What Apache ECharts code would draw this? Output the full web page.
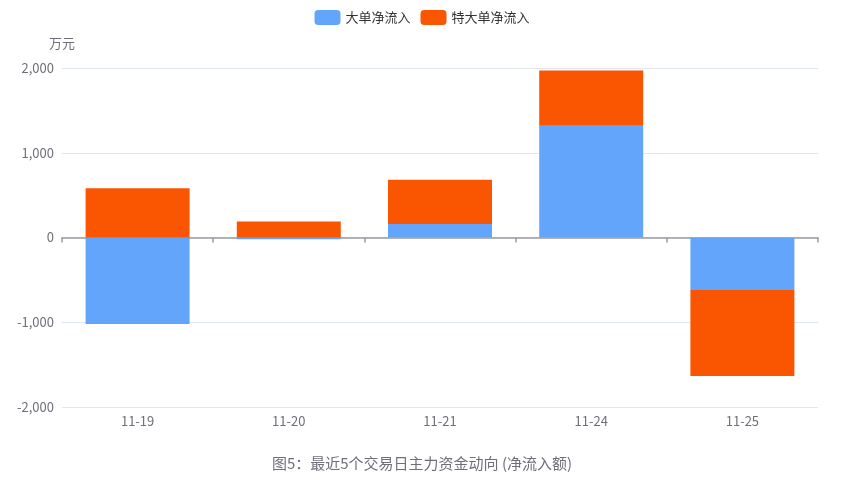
<!DOCTYPE html>
<html>
<head>
<meta charset="utf-8">
<script src="https://cdn.jsdelivr.net/npm/echarts@6/dist/echarts.min.js"></script>
<style>
  html, body { margin: 0; padding: 0; background: #fff; }
  #chart { width: 844px; height: 477px; }
</style>
</head>
<body>
<div id="chart"></div>
<script>
// Trading days
const dates = ['11-19', '11-20', '11-21', '11-24', '11-25'];
// Net inflow of large orders (万元)
const largeInflow = [-1020, -20, 160, 1320, -620];
// Net inflow of extra-large orders (万元)
const extraLargeInflow = [580, 190, 520, 650, -1015];
const seriesNames = ['大单净流入', '特大单净流入'];
const yTicks = { min: -2000, max: 2000, interval: 1000 };

const font = '"Noto Sans CJK SC", "Noto Sans", sans-serif';
const chart = echarts.init(document.getElementById('chart'));
chart.setOption({
  textStyle: { fontFamily: font },
  title: {
    text: '图5：最近5个交易日主力资金动向 (净流入额)',
    left: 'center',
    bottom: 1,
    textStyle: { fontFamily: font, fontSize: 15, fontWeight: 'normal', color: '#6E7079' }
  },
  legend: {
    top: 5,
    left: 'center',
    itemWidth: 26,
    itemHeight: 15,
    itemGap: 10,
    textStyle: { fontFamily: font, fontSize: 13, color: '#333' },
    data: seriesNames
  },
  grid: { left: 62, right: 26, top: 68, bottom: 70 },
  xAxis: {
    type: 'category',
    data: dates,
    axisLine: { lineStyle: { color: '#9a9ca3', width: 1.5 } },
    axisTick: { show: true, length: 5, lineStyle: { color: '#9a9ca3', width: 1.5 } },
    axisLabel: { color: '#6E7079', fontSize: 13, margin: 8, fontFamily: font }
  },
  yAxis: {
    type: 'value',
    name: '万元',
    nameGap: 18,
    nameTextStyle: { color: '#6E7079', fontSize: 13, fontFamily: font, align: 'center' },
    min: yTicks.min,
    max: yTicks.max,
    interval: yTicks.interval,
    axisLabel: { color: '#6E7079', fontSize: 13, fontFamily: font },
    splitLine: { lineStyle: { color: '#E0E6F1' } }
  },
  series: [
    {
      name: seriesNames[0],
      type: 'bar',
      stack: 'flow',
      barWidth: 104,
      itemStyle: { color: '#63A5FA' },
      data: largeInflow
    },
    {
      name: seriesNames[1],
      type: 'bar',
      stack: 'flow',
      barWidth: 104,
      itemStyle: { color: '#FA5500' },
      data: extraLargeInflow
    }
  ]
});
</script>
</body>
</html>
